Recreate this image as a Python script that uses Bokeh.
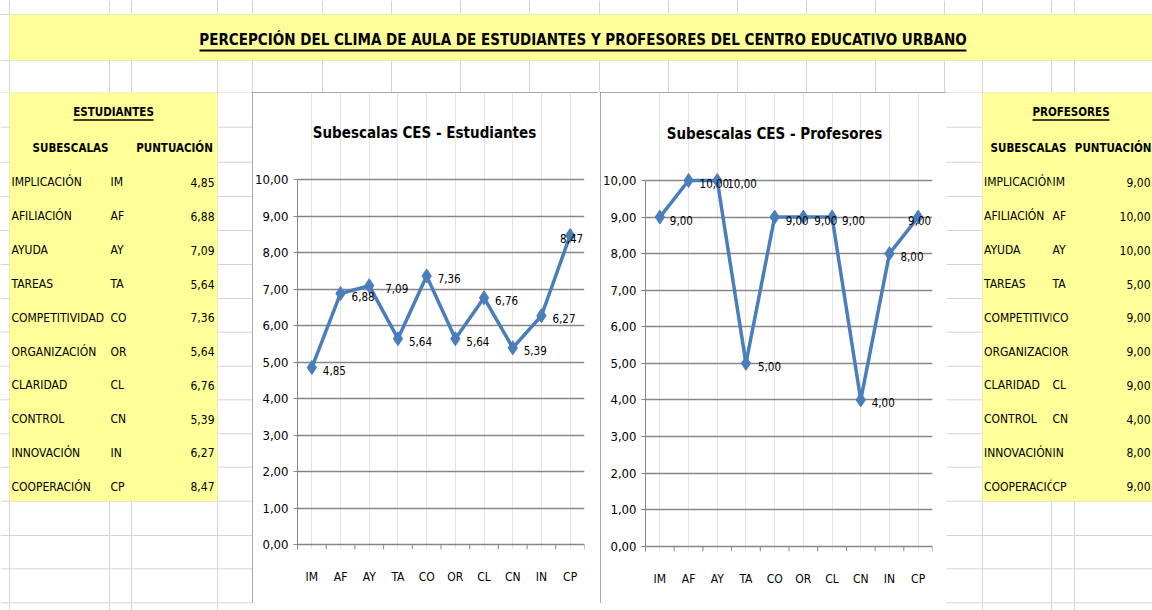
from bokeh.plotting import figure
from bokeh.models import (Range1d, FactorRange, LinearAxis, CategoricalAxis, FixedTicker,
                          Grid, Label, LabelSet, ColumnDataSource, Spacer)
from bokeh.layouts import column, row
from bokeh.embed import file_html
from bokeh.resources import INLINE
from bokeh.core.properties import value

# ---------------- data ----------------
page_title = "PERCEPCIÓN DEL CLIMA DE AULA DE ESTUDIANTES Y PROFESORES DEL CENTRO EDUCATIVO URBANO"
table_titles = ["ESTUDIANTES", "PROFESORES"]
header_labels = ["SUBESCALAS", "PUNTUACIÓN"]
chart_titles = ["Subescalas CES - Estudiantes", "Subescalas CES - Profesores"]
subescalas = ["IMPLICACIÓN", "AFILIACIÓN", "AYUDA", "TAREAS", "COMPETITIVIDAD",
              "ORGANIZACIÓN", "CLARIDAD", "CONTROL", "INNOVACIÓN", "COOPERACIÓN"]
codigos = ["IM", "AF", "AY", "TA", "CO", "OR", "CL", "CN", "IN", "CP"]
puntuacion_estudiantes = [4.85, 6.88, 7.09, 5.64, 7.36, 5.64, 6.76, 5.39, 6.27, 8.47]
puntuacion_profesores = [9.00, 10.00, 10.00, 5.00, 9.00, 9.00, 9.00, 4.00, 8.00, 9.00]
y_ticks = [0, 1, 2, 3, 4, 5, 6, 7, 8, 9, 10]


def fmt(v):
    return f"{v:.2f}".replace(".", ",")


# ---------------- style ----------------
FONT_NAME = "'DejaVu Sans Condensed', 'Liberation Sans', sans-serif"
FONT = value(FONT_NAME)
SHEET_GRID = "#d4d4d4"
YELLOW = "#ffff99"
AXIS_GRAY = "#868686"
BLUE = "#4a7ebb"
TXT = "#000000"
TABLE_FS = "12px"
HEAD_FS = "11.5px"

col_lines = [9, 109, 131, 217, 252, 322, 391, 460, 529, 599, 668, 737, 806, 875, 944, 982, 1051, 1074]
row_lines = [14, 60, 92, 126.7, 161.7, 196, 230, 264, 298, 331.7, 365.7, 399.3, 433.3,
             466.7, 500.7, 535, 568.3, 602.3]


def sheet(x0, x1, y0, y1):
    p = figure(width=x1 - x0, height=y1 - y0, x_range=Range1d(x0, x1), y_range=Range1d(y1, y0),
               toolbar_location=None, output_backend="svg", min_border=0,
               x_axis_location=None, y_axis_location=None)
    p.frame_align = False
    p.outline_line_color = None
    p.grid.visible = False
    p.background_fill_color = "white"
    p.border_fill_color = "white"
    vx = [c for c in col_lines if x0 <= c <= x1]
    p.segment(x0=vx, y0=[y0] * len(vx), x1=vx, y1=[y1] * len(vx), line_color=SHEET_GRID, line_width=1)
    hy = [r for r in row_lines if y0 <= r <= y1]
    p.segment(x0=[x0] * len(hy), y0=hy, x1=[x1] * len(hy), y1=hy, line_color=SHEET_GRID, line_width=1)
    return p


def txt(p, x, y, t, align="left", bold=False, size=TABLE_FS):
    p.text(x=x, y=y, text=t, text_align=align, text_baseline="middle", text_font=FONT,
           text_font_style="bold" if bold else "normal", text_font_size=size, text_color=TXT)


# ---------------- top strip (title band) ----------------
top = sheet(0, 1152, 0, 92)
top.quad(left=9, right=1152, top=14, bottom=60, fill_color=YELLOW, line_color=None)
txt(top, [582.5], [39.5], [page_title], align="center", bold=True, size="15px")
top.segment(x0=[199], y0=[50], x1=[966], y1=[50], line_color="black", line_width=2)

# ---------------- tables ----------------
row_mid = [r - 14.5 for r in row_lines[5:15]]


def table(p, x_left, x_right, title, title_cx, title_ul, sub_cx, pun_x, pun_align, name_x, code_x,
          val_x, scores, mask=False):
    p.quad(left=x_left, right=x_right, top=92, bottom=500.7, fill_color=YELLOW, line_color=None)
    txt(p, [title_cx], [row_lines[3] - 15], [title], align="center", bold=True, size=HEAD_FS)
    p.segment(x0=[title_ul[0]], y0=[119.5], x1=[title_ul[1]], y1=[119.5], line_color="black", line_width=1.5)
    txt(p, [sub_cx], [row_lines[4] - 14.5], [header_labels[0]], align="center", bold=True, size=HEAD_FS)
    txt(p, [pun_x], [row_lines[4] - 14.5], [header_labels[1]], align=pun_align, bold=True, size=HEAD_FS)
    txt(p, [name_x] * len(subescalas), row_mid, subescalas)
    if mask:
        p.quad(left=code_x - 1, right=x_right, top=row_lines[4] + 1, bottom=500.7,
               fill_color=YELLOW, line_color=None)
    txt(p, [code_x] * len(codigos), row_mid, codigos)
    txt(p, [val_x] * len(scores), row_mid, [fmt(v) for v in scores], align="right")


left = sheet(0, 252, 92, 610)
table(left, 9, 217, table_titles[0], 113, (73, 153), 70, 174, "center", 11, 110, 214,
      puntuacion_estudiantes)

right = sheet(946, 1152, 92, 610)
table(right, 982, 1152, table_titles[1], 1070.5, (1032, 1109), 1028, 1151, "right", 983.5, 1052, 1150,
      puntuacion_profesores, mask=True)


# ---------------- charts ----------------
def make_chart(title, scores, borders, y_lims, title_xy, label_dx, label_align):
    bl, br, bt, bb = borders
    p = figure(width=346, height=511, x_range=FactorRange(factors=codigos),
               y_range=Range1d(*y_lims),
               toolbar_location=None, output_backend="svg",
               x_axis_location=None, y_axis_location=None,
               min_border_left=bl, min_border_right=br, min_border_top=bt, min_border_bottom=bb)
    p.frame_align = False
    p.outline_line_color = None
    p.background_fill_color = "white"
    p.border_fill_color = "white"
    p.styles = {"outline": "1px solid #8c8c8c", "outline-offset": "-1px"}

    yax = LinearAxis(ticker=FixedTicker(ticks=y_ticks), bounds=(y_lims[0], y_ticks[-1]),
                     major_label_overrides={t: fmt(t) for t in y_ticks},
                     axis_line_color=AXIS_GRAY, major_tick_line_color=AXIS_GRAY,
                     major_tick_in=0, major_tick_out=4, minor_tick_line_color=None,
                     major_label_standoff=5, major_label_text_font=FONT_NAME,
                     major_label_text_font_size="13px", major_label_text_color=TXT)
    p.add_layout(yax, "left")
    p.add_layout(Grid(dimension=1, ticker=FixedTicker(ticks=y_ticks),
                      grid_line_color=AXIS_GRAY, grid_line_width=1.5))

    # tick marks between categories, hanging below the 0 line
    bounds = [(c, -0.5) for c in codigos] + [(codigos[-1], 0.5)]
    p.segment(x0=bounds, y0=[0] * len(bounds), x1=bounds, y1=[y_lims[0]] * len(bounds),
              line_color=AXIS_GRAY, line_width=1)

    cax = CategoricalAxis(axis_line_color=None, major_tick_line_color=None,
                          major_tick_in=0, major_tick_out=0,
                          major_label_standoff=20, major_label_text_font=FONT_NAME,
                          major_label_text_font_size="12px", major_label_text_color=TXT)
    p.add_layout(cax, "below")

    src = ColumnDataSource(dict(code=codigos, score=scores, label=[fmt(v) for v in scores],
                                dx=label_dx, align=label_align))
    p.line("code", "score", source=src, line_width=3.5, line_color=BLUE)
    p.scatter("code", "score", source=src, marker="diamond", size=14, fill_color=BLUE, line_color=BLUE)
    p.add_layout(LabelSet(x="code", y="score", text="label", source=src, x_offset="dx", y_offset=-3,
                          text_align="align", text_baseline="middle", text_font=FONT,
                          text_font_size=value("11.5px"), text_color=TXT))
    p.add_layout(Label(x=title_xy[0], y=title_xy[1], x_units="screen", y_units="screen", text=title,
                       text_align="center", text_baseline="middle", text_font=FONT_NAME,
                       text_font_style="bold", text_font_size="15px", text_color=TXT))
    return p


L = ["left"] * 9 + ["right"]
chart1 = make_chart(chart_titles[0], puntuacion_estudiantes, (45, 14, 1, 54), (-0.137, 12.36),
                    (127, 417), [11, 11, 16, 11, 11, 11, 11, 11, 11, 13], L)
chart2 = make_chart(chart_titles[1], puntuacion_profesores, (44, 14, 1, 52), (-0.145, 12.38),
                    (129, 418), [10, 11, 10, 12, 11, 11, 10, 11, 11, 13], L)

mid = row(left, chart1, Spacer(width=2, height=511), chart2, right)
page = column(top, mid)

open("out.html", "w").write(file_html(page, INLINE))
